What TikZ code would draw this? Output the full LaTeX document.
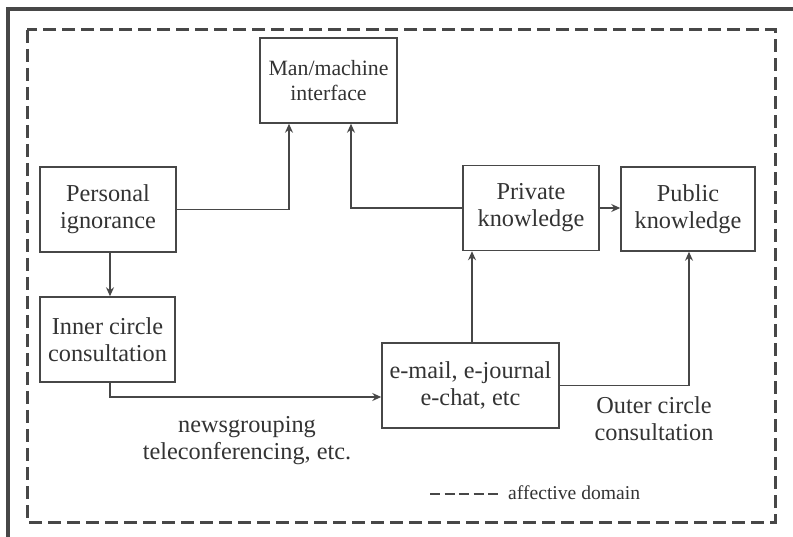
\documentclass[tikz,border=0pt]{standalone}
\usepackage{fontspec}
\setmainfont{Liberation Serif}
\usetikzlibrary{arrows.meta}
\definecolor{ln}{HTML}{474747}
\definecolor{tx}{HTML}{333333}
\tikzset{
  box/.style={draw=ln, line width=1.5pt, align=center, text=tx, inner sep=0pt,
    font=\fontsize{24.3}{27}\selectfont},
  lbl/.style={align=center, text=tx, inner sep=0pt, font=\fontsize{24.3}{27}\selectfont},
  arr/.style={draw=ln, line width=1.5pt, -{Stealth[length=9pt,width=8pt,inset=3pt]}},
  affbox/.style={draw=ln, line width=3pt, dash pattern=on 13pt off 6pt},
}
\begin{document}
\begin{tikzpicture}[x=1pt,y=-1pt]
\useasboundingbox (0,0) rectangle (793,537);
% outer frame (cropped)
\draw[ln, line width=3.2pt] (8,540) -- (8,9) -- (796,9);
% affective domain box
\draw[affbox] (27,30) rectangle (775,522);
% nodes
\node[box, minimum width=137pt, minimum height=85pt, font=\fontsize{21.8}{24.5}\selectfont] (mm) at (328.5,80.5) {Man/machine\\interface};
\node[box, minimum width=136pt, minimum height=85pt] (pi) at (108,209.5) {Personal\\ignorance};
\node[box, minimum width=135pt, minimum height=85pt] (ic) at (107.5,339.5) {Inner circle\\consultation};
\node[box, minimum width=136pt, minimum height=85pt] (pk) at (531,208) {Private\\knowledge};
\node[box, minimum width=134pt, minimum height=84pt] (pub) at (688,209) {Public\\knowledge};
\node[box, minimum width=177pt, minimum height=85pt] (em) at (470.5,385.5) {e-mail, e-journal\\e-chat, etc};
% labels
\node[lbl] (oc) at (654,418.5) {Outer circle\\consultation};
\node[lbl] (ng) at (247,440.5) {newsgrouping\\teleconferencing, etc.};
\coordinate (lg1) at (430,494);
\coordinate (lg2) at (498,494);
\draw[ln, line width=2.4pt, dash pattern=on 10pt off 4.5pt] (lg1) -- (lg2);
\node[lbl, anchor=west, font=\fontsize{19.6}{22}\selectfont] (ad) at (508,493) {affective domain};
% connectors
\draw[arr] (pi.east) -| ([xshift=-39.5pt]mm.south);
\draw[arr] (pk.west) -| ([xshift=22.5pt]mm.south);
\draw[arr] (pk.east) -- (pk.east -| pub.west);
\draw[arr] ([xshift=2pt]pi.south) -- ([xshift=2pt]pi.south |- ic.north);
\draw[arr] ([xshift=2.5pt]ic.south) |- ([yshift=-11.5pt]em.west);
\draw[arr] ([xshift=1.5pt]em.north) -- ([xshift=1.5pt]em.north |- pk.south);
\draw[arr] (em.east) -| ([xshift=1pt]pub.south);
\end{tikzpicture}
\end{document}
